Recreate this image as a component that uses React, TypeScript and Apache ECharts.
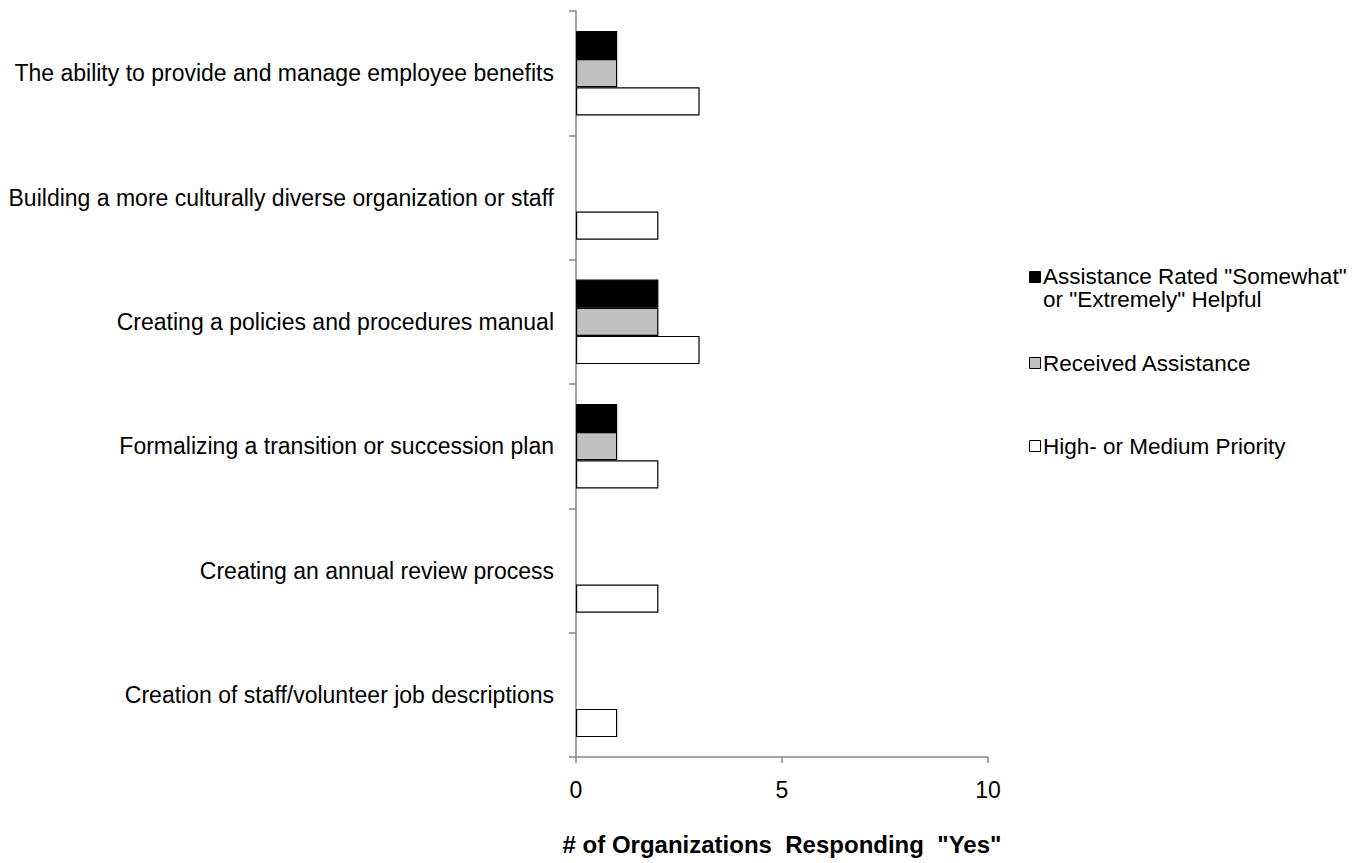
import React, { useEffect, useRef } from "react";
import * as echarts from "echarts";

// Categories, listed from the top row down
const categories = [
  "The ability to provide and manage employee benefits",
  "Building a more culturally diverse organization or staff",
  "Creating a policies and procedures manual",
  "Formalizing a transition or succession plan",
  "Creating an annual review process",
  "Creation of staff/volunteer job descriptions",
];

const helpfulValues = [1, 0, 2, 1, 0, 0];
const receivedValues = [1, 0, 2, 1, 0, 0];
const priorityValues = [3, 2, 3, 2, 2, 1];

const seriesNames = [
  'Assistance Rated "Somewhat" or "Extremely" Helpful',
  "Received Assistance",
  "High- or Medium Priority",
];

const xTicks = [0, 5, 10];
const xTitle = '# of Organizations  Responding  "Yes"';

const FONT = "'Liberation Sans', Arial, Helvetica, sans-serif";
const AXIS_COLOR = "#878787";

// zero counts leave an empty slot rather than a hairline
const toBars = (vals: number[]) => vals.map((v) => (v === 0 ? null : v));

export default function App() {
  const ref = useRef<HTMLDivElement>(null);

  useEffect(() => {
    document.body.style.margin = "0";
    if (!ref.current) return;
    const chart = echarts.init(ref.current, undefined, { renderer: "svg" });

    const barBase = {
      type: "bar" as const,
      barGap: "0%",
      barCategoryGap: "32%",
      itemStyle: { borderColor: "#000", borderWidth: 1.2 },
    };

    const legendText = {
      fontFamily: FONT,
      fontSize: 22.5,
      fill: "#000",
    };

    chart.setOption({
      animation: false,
      backgroundColor: "#fff",
      textStyle: { fontFamily: FONT },
      grid: { left: 576, top: 11, width: 412, height: 746, containLabel: false },
      xAxis: {
        type: "value",
        min: xTicks[0],
        max: xTicks[xTicks.length - 1],
        interval: xTicks[1] - xTicks[0],
        axisLine: { show: true, lineStyle: { color: AXIS_COLOR, width: 1.5 } },
        axisTick: { show: true, inside: false, length: 6, lineStyle: { color: AXIS_COLOR, width: 1.5 } },
        splitLine: { show: false },
        axisLabel: { color: "#000", fontSize: 23, fontFamily: FONT, margin: 21 },
        name: xTitle,
        nameLocation: "middle",
        nameGap: 75,
        nameTextStyle: { color: "#000", fontSize: 24, fontWeight: "bold", fontFamily: FONT },
      },
      yAxis: {
        type: "category",
        inverse: true,
        data: categories,
        axisLine: { show: true, lineStyle: { color: AXIS_COLOR, width: 1.5 } },
        axisTick: { show: true, inside: false, length: 7, lineStyle: { color: AXIS_COLOR, width: 1.5 } },
        splitLine: { show: false },
        axisLabel: { color: "#000", fontSize: 23, fontFamily: FONT, margin: 22 },
      },
      series: [
        { ...barBase, name: seriesNames[0], data: toBars(helpfulValues), itemStyle: { ...barBase.itemStyle, color: "#000000" } },
        { ...barBase, name: seriesNames[1], data: toBars(receivedValues), itemStyle: { ...barBase.itemStyle, color: "#c0c0c0" } },
        { ...barBase, name: seriesNames[2], data: toBars(priorityValues), itemStyle: { ...barBase.itemStyle, color: "#ffffff" } },
      ],
      graphic: [
        // legend keys
        { type: "rect", left: 1029, top: 271, shape: { width: 11, height: 11 }, style: { fill: "#000", stroke: "#000", lineWidth: 1 } },
        { type: "rect", left: 1029, top: 357, shape: { width: 11, height: 11 }, style: { fill: "#c0c0c0", stroke: "#000", lineWidth: 1 } },
        { type: "rect", left: 1029, top: 440, shape: { width: 11, height: 11 }, style: { fill: "#fff", stroke: "#000", lineWidth: 1 } },
        // legend labels
        {
          type: "text",
          x: 1043,
          y: 265,
          style: { ...legendText, text: 'Assistance Rated "Somewhat"\nor "Extremely" Helpful', lineHeight: 23, verticalAlign: "top" },
        },
        { type: "text", x: 1043, y: 363, style: { ...legendText, text: seriesNames[1], verticalAlign: "middle" } },
        { type: "text", x: 1043, y: 446, style: { ...legendText, text: seriesNames[2], verticalAlign: "middle" } },
      ],
    });

    return () => chart.dispose();
  }, []);

  return <div ref={ref} style={{ width: 1369, height: 863 }} />;
}
